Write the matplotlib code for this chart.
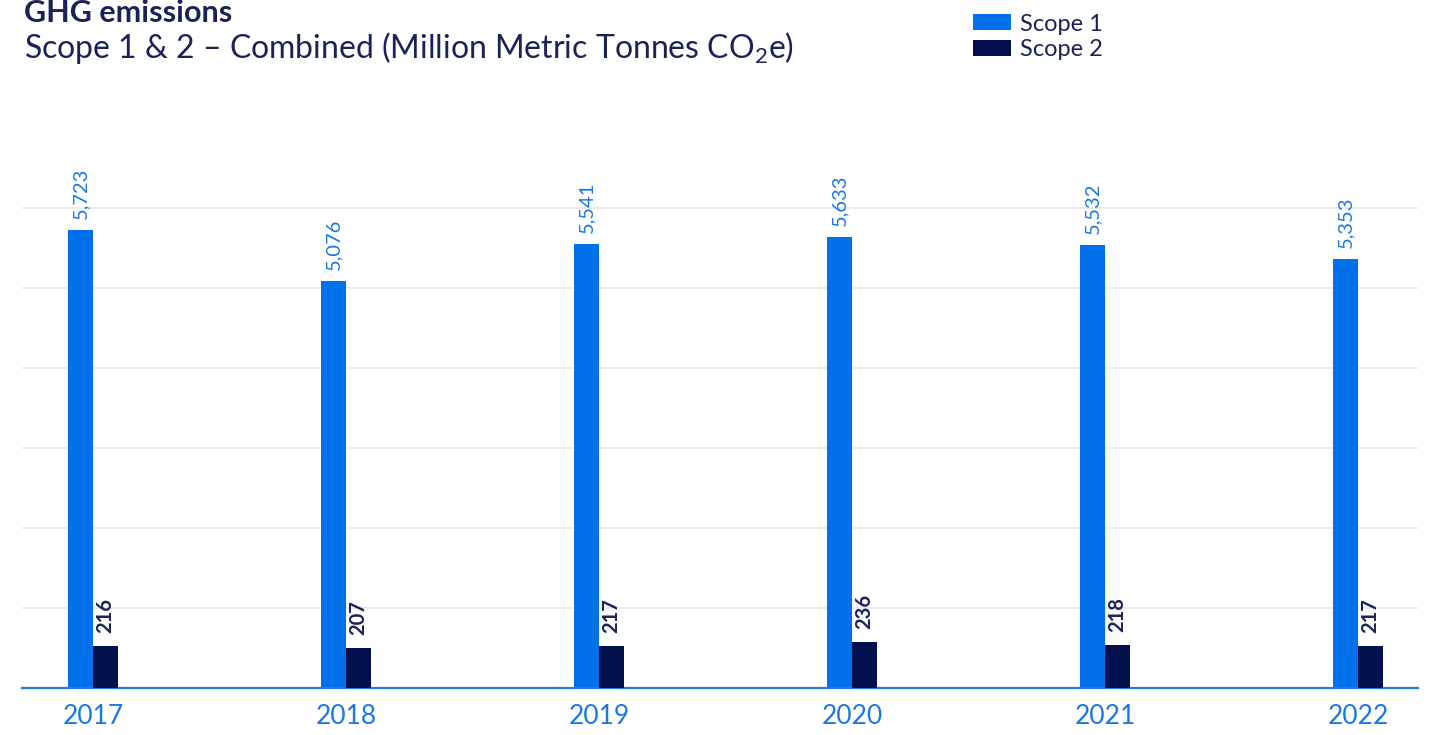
import numpy as np
import matplotlib
matplotlib.use('Agg')
import matplotlib.pyplot as plt
from matplotlib.patches import Patch

# data
years = ['2017', '2018', '2019', '2020', '2021', '2022']
scope1 = [5723, 5076, 5541, 5633, 5532, 5353]
scope2 = [216, 207, 217, 236, 218, 217]

blue = '#0070EB'
navy = '#03124F'
text_navy = '#1B2257'
label_blue = '#1A78E6'

plt.rcParams['font.family'] = ['Lato', 'DejaVu Sans']
plt.rcParams['mathtext.fontset'] = 'custom'
plt.rcParams['mathtext.rm'] = 'Lato'

W, H = 1442, 735
fig = plt.figure(figsize=(W / 100, H / 100), dpi=100)

# axes placed in pixel terms
left, right, bottom, top = 22, 1418, 735 - 687.5, 735 - 150
ax = fig.add_axes([left / W, bottom / H, (right - left) / W, (top - bottom) / H])
ax2 = ax.twinx()

x = np.arange(len(years))
bw = 0.099

ax.bar(x - bw / 2, scope1, width=bw, color=blue, zorder=3)
ax2.bar(x + bw / 2, scope2, width=bw, color=navy, zorder=3)

# primary: 80px per 1000 units
ax_h = top - bottom
ax.set_ylim(0, ax_h / 80 * 1000)
ax2.set_ylim(0, ax_h * 216 / 41.7)
ax.set_xlim(-0.28, 5.237)

ax.set_yticks([1000, 2000, 3000, 4000, 5000, 6000])
ax.yaxis.grid(True, color='#e8e8e8', linewidth=1.2, zorder=0)
ax.tick_params(axis='y', left=False, labelleft=False)
ax2.tick_params(axis='y', right=False, labelright=False)
ax.set_xticks(x)
ax.set_xticklabels(years, fontsize=19, color=label_blue)
ax.tick_params(axis='x', length=0, pad=12)

for a in (ax, ax2):
    for s in ['top', 'right', 'left']:
        a.spines[s].set_visible(False)
    a.spines['bottom'].set_color('#1f7be6')
    a.spines['bottom'].set_linewidth(1.5)

for xi, v in zip(x, scope1):
    ax.annotate(f'{v:,}', (xi - bw / 2, v), xytext=(0, 11), textcoords='offset pixels',
                rotation=90, ha='center', va='bottom', fontsize=14.5, color=label_blue)
for xi, v in zip(x, scope2):
    ax2.annotate(f'{v}', (xi + bw / 2, v), xytext=(0, 13), textcoords='offset pixels',
                 rotation=90, ha='center', va='bottom', fontsize=14.5, color=text_navy,
                 fontweight='bold')

# titles
fig.text(24 / W, 1 - 22 / H, 'GHG emissions', fontsize=22, fontweight='bold',
         color=text_navy, ha='left', va='baseline')
fig.text(24 / W, 1 - 58 / H, 'Scope 1 & 2 \u2013 Combined (Million Metric Tonnes CO$_\\mathrm{2}$e)',
         fontsize=23, color=text_navy, ha='left', va='baseline')

handles = [Patch(facecolor=blue), Patch(facecolor=navy)]
fig.legend(handles, ['Scope 1', 'Scope 2'], loc='upper left',
           bbox_to_anchor=(956 / W, 1 + 3 / H), frameon=False, fontsize=17,
           handlelength=1.65, handleheight=0.68, handletextpad=0.34, labelspacing=0.2,
           labelcolor=text_navy, borderpad=0.2)

fig.savefig('out.png', dpi=100)
